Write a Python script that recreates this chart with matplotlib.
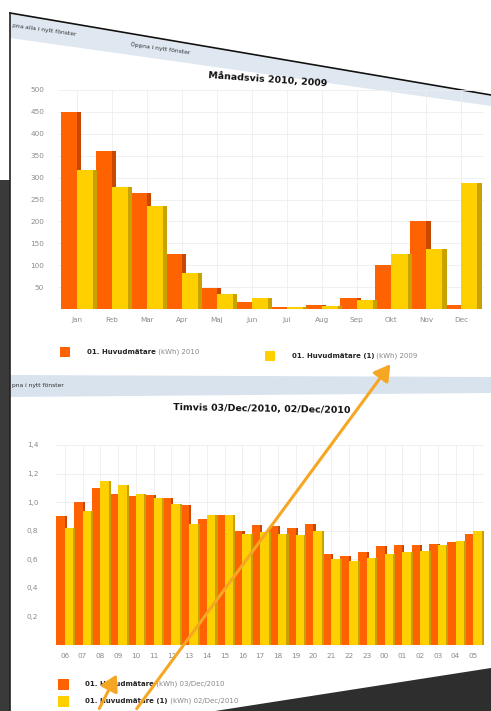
import matplotlib
matplotlib.use("Agg")
import matplotlib.pyplot as plt
import numpy as np
from matplotlib.patches import Polygon, Rectangle, FancyArrowPatch
from matplotlib.lines import Line2D

# ---------------- data ----------------
months = ["Jan", "Feb", "Mar", "Apr", "Maj", "Jun", "Jul", "Aug", "Sep", "Okt", "Nov", "Dec"]
month_2010 = [450, 360, 265, 125, 48, 15, 5, 8, 25, 100, 200, 8]
month_2009 = [318, 278, 235, 82, 35, 25, 4, 6, 20, 125, 138, 288]
month_yticks = [50, 100, 150, 200, 250, 300, 350, 400, 450, 500]

hours = ["06", "07", "08", "09", "10", "11", "12", "13", "14", "15", "16", "17",
         "18", "19", "20", "21", "22", "23", "00", "01", "02", "03", "04", "05"]
hour_dec03 = [0.90, 1.00, 1.10, 1.06, 1.04, 1.05, 1.03, 0.98, 0.88, 0.91, 0.80, 0.84,
              0.83, 0.82, 0.85, 0.64, 0.62, 0.65, 0.69, 0.70, 0.70, 0.71, 0.72, 0.78]
hour_dec02 = [0.82, 0.94, 1.15, 1.12, 1.06, 1.03, 0.99, 0.85, 0.91, 0.91, 0.78, 0.79,
              0.78, 0.77, 0.80, 0.60, 0.59, 0.61, 0.64, 0.65, 0.66, 0.70, 0.73, 0.80]
hour_yticks = [0.2, 0.4, 0.6, 0.8, 1.0, 1.2, 1.4]

legend_top = [("01. Huvudmätare", " (kWh) 2010"), ("01. Huvudmätare (1)", " (kWh) 2009")]
legend_bottom = [("01. Huvudmätare", " (kWh) 03/Dec/2010"), ("01. Huvudmätare (1)", " (kWh) 02/Dec/2010")]
title_top = "Månadsvis 2010, 2009"
title_bottom = "Timvis 03/Dec/2010, 02/Dec/2010"

ORANGE = "#FF6200"
ORANGE_SIDE = "#C84800"
YELLOW = "#FFD000"
YELLOW_SIDE = "#C9A200"

W, H = 491, 711
fig = plt.figure(figsize=(W / 100, H / 100), dpi=100, facecolor="white")


def fx(x):
    return x / W


def fy(y):
    return 1 - y / H


def fpoly(pts, **kw):
    p = Polygon([(fx(x), fy(y)) for x, y in pts], closed=True,
                transform=fig.transFigure, **kw)
    fig.add_artist(p)
    return p


# ---------------- background (screen photo) ----------------
fpoly([(0, 180), (10, 180), (10, 711), (0, 711)], facecolor="#3a3a3a", edgecolor="none", zorder=-5)
fpoly([(215, 711), (491, 668), (491, 711)], facecolor="#2e2e2e", edgecolor="none", zorder=5)
# toolbar band at the top
fpoly([(10, 14), (491, 96), (491, 106), (10, 38)], facecolor="#dfe7f0", edgecolor="none", zorder=-4)
fig.add_artist(Line2D([fx(10), fx(491)], [fy(13), fy(95)], color="#111111", lw=1.2,
                      transform=fig.transFigure, zorder=-3))
fig.add_artist(Line2D([fx(10), fx(10)], [fy(13), fy(711)], color="#222222", lw=1.2,
                      transform=fig.transFigure, zorder=-3))
fig.text(fx(12), fy(30), "pna alla i nytt fönster", fontsize=4.3, color="#333333",
         rotation=-8, va="center", ha="left", zorder=-2)
fig.text(fx(130), fy(48), "Öppna i nytt fönster", fontsize=4.3, color="#333333",
         rotation=-8, va="center", ha="left", zorder=-2)
# middle band between the two charts
fpoly([(10, 375), (491, 377), (491, 393), (10, 397)], facecolor="#d9e3ee", edgecolor="none", zorder=-4)
fig.text(fx(12), fy(386), "pna i nytt fönster", fontsize=4.3, color="#333333",
         va="center", ha="left", zorder=-2)


def style_axes(ax):
    ax.set_facecolor("none")
    for s in ax.spines.values():
        s.set_visible(False)
    ax.tick_params(length=0, labelsize=5.2, labelcolor="#8a8a8a", pad=6)
    ax.grid(True, color="#eeeeee", lw=0.6)
    ax.set_axisbelow(True)


def legend_entry(bold, rest, col, lx, ly, size=10, fs=5, rot=0):
    fig.add_artist(Rectangle((fx(lx), fy(ly + size / 2)), size / W, size / H, facecolor=col,
                             edgecolor="none", transform=fig.transFigure, zorder=1))
    t = fig.text(fx(lx + 27), fy(ly), bold, fontsize=fs, fontweight="bold", color="#222222",
                 ha="left", va="center", zorder=1)
    fig.canvas.draw()
    bb = t.get_window_extent()
    fig.text(bb.x1 / W, fy(ly), rest, fontsize=fs, color="#888888", ha="left", va="center", zorder=1)


# ---------------- top chart ----------------
ax1 = fig.add_axes([fx(58), fy(309), (484 - 58) / W, (309 - 90) / H])
style_axes(ax1)
x = np.arange(len(months))
bw = 0.46
side = 0.12
ax1.bar(x - bw / 2 + side, month_2010, width=bw, color=ORANGE_SIDE, zorder=2)
ax1.bar(x - bw / 2, month_2010, width=bw, color=ORANGE, zorder=3)
ax1.bar(x + bw / 2 + side, month_2009, width=bw, color=YELLOW_SIDE, zorder=4)
ax1.bar(x + bw / 2, month_2009, width=bw, color=YELLOW, zorder=5)
ax1.set_xlim(-0.55, len(months) - 0.35)
ax1.set_ylim(0, 500)
ax1.set_yticks(month_yticks)
ax1.set_xticks(x)
ax1.set_xticklabels(months)
ax1.tick_params(axis="y", pad=10)
fig.text(fx(268), fy(80), title_top, fontsize=6.8, fontweight="bold", color="#111111",
         ha="center", va="center", rotation=-4)

legend_entry(*legend_top[0], ORANGE, 60, 352)
legend_entry(*legend_top[1], YELLOW, 265, 356)

# ---------------- bottom chart ----------------
ax2 = fig.add_axes([fx(55), fy(645), (484 - 55) / W, (645 - 445) / H])
style_axes(ax2)
xh = np.arange(len(hours))
hw = 0.48
hside = 0.12
ax2.bar(xh - hw / 2 + hside, hour_dec03, width=hw, color=ORANGE_SIDE, zorder=2)
ax2.bar(xh - hw / 2, hour_dec03, width=hw, color=ORANGE, zorder=3)
ax2.bar(xh + hw / 2 + hside, hour_dec02, width=hw, color=YELLOW_SIDE, zorder=4)
ax2.bar(xh + hw / 2, hour_dec02, width=hw, color=YELLOW, zorder=5)
ax2.set_xlim(-0.55, len(hours) - 0.4)
ax2.set_ylim(0, 1.4)
ax2.set_yticks(hour_yticks)
ax2.set_yticklabels([f"{v:.1f}".replace(".", ",") for v in hour_yticks])
ax2.set_xticks(xh)
ax2.set_xticklabels(hours)
ax2.tick_params(axis="y", pad=12)
fig.text(fx(262), fy(409), title_bottom, fontsize=6.8, fontweight="bold", color="#111111",
         ha="center", va="center", rotation=-1)

legend_entry(*legend_bottom[0], ORANGE, 58, 684, size=11)
legend_entry(*legend_bottom[1], YELLOW, 58, 701, size=11)

# ---------------- orange annotation arrows ----------------
for (x0, y0), (x1, y1) in [((135, 711), (392, 362)), ((98, 711), (118, 672))]:
    arr = FancyArrowPatch((fx(x0), fy(y0)), (fx(x1), fy(y1)), transform=fig.transFigure,
                          arrowstyle="-|>,head_length=6,head_width=3.5", color="#F5A623",
                          lw=2.2, zorder=10, mutation_scale=1.6)
    fig.add_artist(arr)

fig.savefig("out.png", dpi=100, facecolor="white")
